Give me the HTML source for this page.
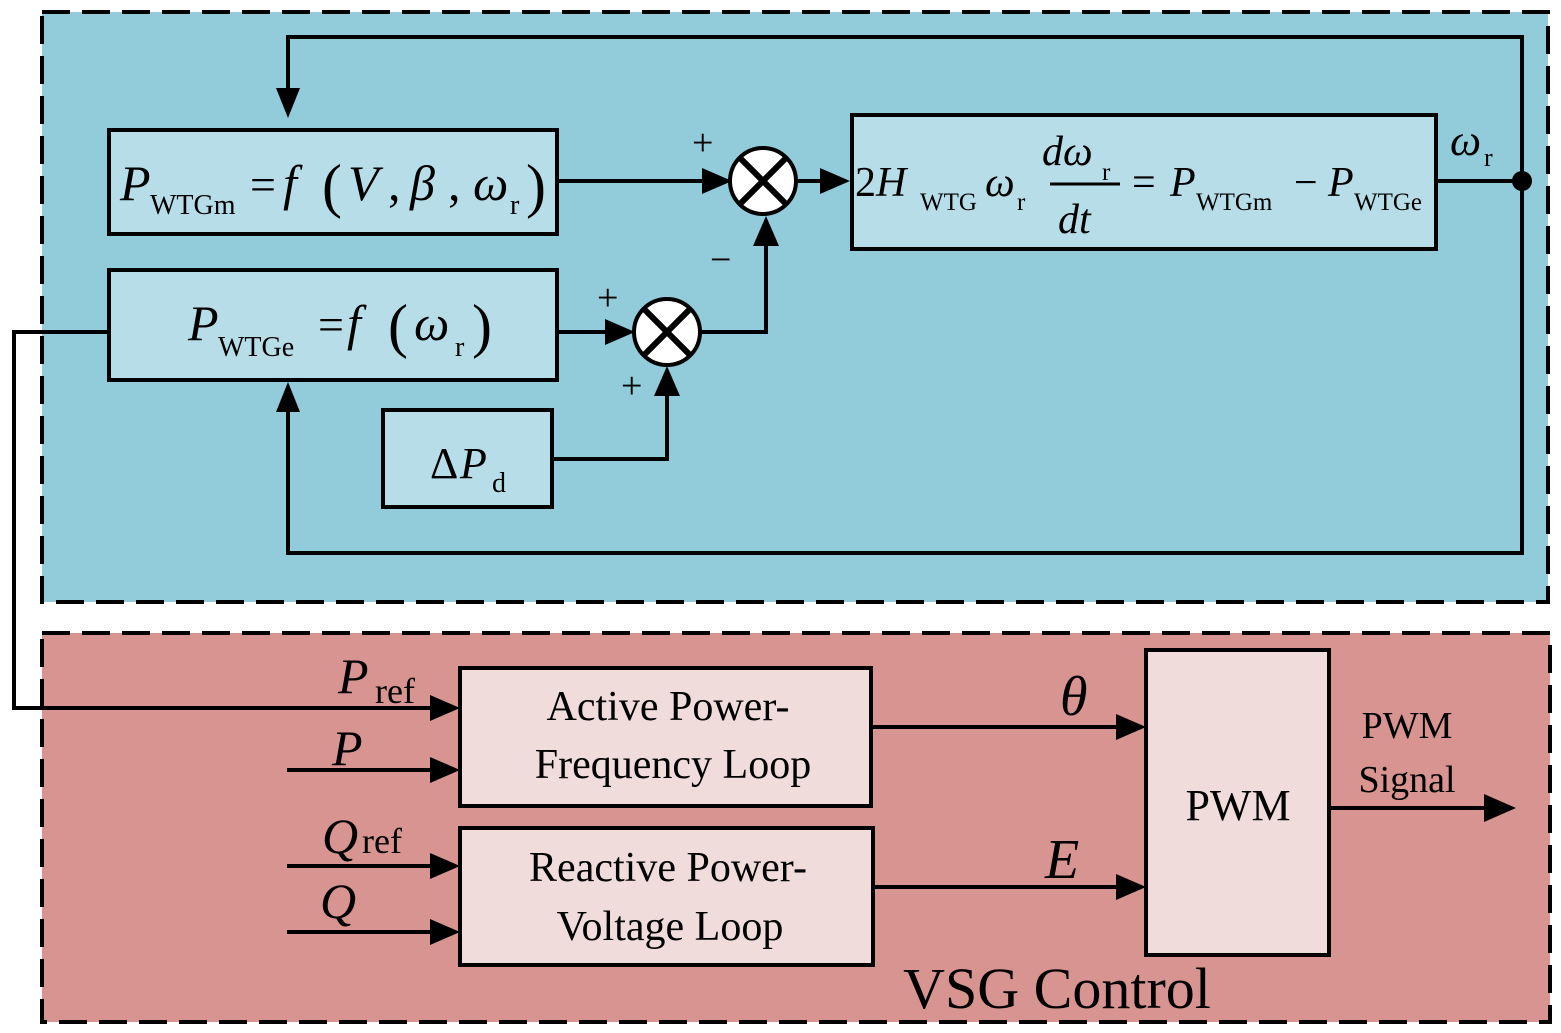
<!DOCTYPE html>
<html><head><meta charset="utf-8"><style>
html,body{margin:0;padding:0;background:#fff;}
svg{display:block;}
text{font-family:"Liberation Serif",serif;fill:#000;}
.i{font-style:italic;}
</style></head><body>
<svg width="1561" height="1033" viewBox="0 0 1561 1033" xmlns="http://www.w3.org/2000/svg">
<rect x="42" y="12" width="1506" height="590" fill="#92CBDA" stroke="#000" stroke-width="4" stroke-dasharray="28,12"/>
<rect x="42" y="633" width="1508" height="389" fill="#D89491" stroke="#000" stroke-width="4" stroke-dasharray="28,12"/>

<g stroke="#000" stroke-width="4" fill="none">
<polyline points="1522,181 1522,37 288,37 288,90"/>
<polyline points="1522,181 1522,553 288,553 288,410"/>
<line x1="1436" y1="181" x2="1522" y2="181"/>
<line x1="557" y1="181" x2="705" y2="181"/>
<line x1="796" y1="181" x2="825" y2="181"/>
<line x1="557" y1="332" x2="610" y2="332"/>
<polyline points="700,332 766,332 766,245"/>
<polyline points="552,459 667,459 667,395"/>
<polyline points="109,332 14,332 14,708 432,708"/>
<line x1="287" y1="770" x2="432" y2="770"/>
<line x1="287" y1="866" x2="432" y2="866"/>
<line x1="287" y1="932" x2="432" y2="932"/>
<line x1="871" y1="727" x2="1118" y2="727"/>
<line x1="873" y1="887" x2="1118" y2="887"/>
<line x1="1329" y1="808" x2="1488" y2="808"/>
</g>
<g fill="#000">
<polygon points="276,88 300,88 288,118"/>
<polygon points="276,412 300,412 288,382"/>
<polygon points="702,168 702,194 732,181"/>
<polygon points="820,168 820,194 850,181"/>
<polygon points="605,319 605,345 635,332"/>
<polygon points="753,246 779,246 766,216"/>
<polygon points="654,396 680,396 667,366"/>
<polygon points="430,695 430,721 460,708"/>
<polygon points="430,757 430,783 460,770"/>
<polygon points="430,853 430,879 460,866"/>
<polygon points="430,919 430,945 460,932"/>
<polygon points="1116,714 1116,740 1146,727"/>
<polygon points="1116,874 1116,900 1146,887"/>
<polygon points="1484,794 1484,822 1516,808"/>
<circle cx="1522" cy="181" r="10"/>
</g>
<g stroke="#000" stroke-width="4" fill="#B7DEE8">
<rect x="109" y="130" width="448" height="104"/>
<rect x="109" y="270" width="448" height="110"/>
<rect x="383" y="410" width="169" height="97"/>
<rect x="852" y="115" width="584" height="134"/>
</g>
<g stroke="#000" stroke-width="4" fill="#fff">
<circle cx="763" cy="181" r="33"/>
<circle cx="667" cy="332" r="33"/>
</g>
<g stroke="#000" stroke-width="6">
<line x1="740" y1="158" x2="786" y2="204"/><line x1="786" y1="158" x2="740" y2="204"/>
<line x1="644" y1="309" x2="690" y2="355"/><line x1="690" y1="309" x2="644" y2="355"/>
</g>
<g stroke="#000" stroke-width="4" fill="#F0DCDB">
<rect x="460" y="668" width="411" height="138"/>
<rect x="460" y="828" width="413" height="137"/>
<rect x="1146" y="650" width="183" height="305"/>
</g>

<text x="120" y="200" font-size="50" class="i">P</text>
<text x="150" y="214" font-size="28">WTGm</text>
<text x="250" y="200" font-size="46">=</text>
<text x="283" y="200" font-size="50" class="i">f</text>
<text x="322" y="206" font-size="60">(</text>
<text x="348" y="200" font-size="50" class="i">V</text>
<text x="388" y="200" font-size="50">,</text>
<text x="410" y="200" font-size="50" class="i">β</text>
<text x="448" y="200" font-size="50">,</text>
<text x="473" y="200" font-size="50" class="i">ω</text>
<text x="510" y="214" font-size="28">r</text>
<text x="526" y="206" font-size="60">)</text>

<text x="188" y="340" font-size="50" class="i">P</text>
<text x="218" y="356" font-size="28">WTGe</text>
<text x="318" y="340" font-size="46">=</text>
<text x="347" y="340" font-size="50" class="i">f</text>
<text x="388" y="346" font-size="60">(</text>
<text x="414" y="340" font-size="50" class="i">ω</text>
<text x="455" y="356" font-size="28">r</text>
<text x="472" y="346" font-size="60">)</text>

<text x="430" y="478" font-size="44">Δ</text>
<text x="460" y="478" font-size="44" class="i">P</text>
<text x="492" y="492" font-size="28">d</text>

<text x="855" y="196" font-size="42">2</text>
<text x="876" y="196" font-size="42" class="i">H</text>
<text x="920" y="210" font-size="25">WTG</text>
<text x="985" y="196" font-size="42" class="i">ω</text>
<text x="1017" y="210" font-size="25">r</text>
<text x="1042" y="165" font-size="42" class="i">dω</text>
<text x="1102" y="180" font-size="25">r</text>
<line x1="1050" y1="184" x2="1120" y2="184" stroke="#000" stroke-width="3"/>
<text x="1058" y="233" font-size="42" class="i">dt</text>
<text x="1132" y="196" font-size="42">=</text>
<text x="1170" y="196" font-size="42" class="i">P</text>
<text x="1196" y="210" font-size="25">WTGm</text>
<text x="1294" y="196" font-size="42">−</text>
<text x="1328" y="196" font-size="42" class="i">P</text>
<text x="1354" y="210" font-size="25">WTGe</text>

<text x="1450" y="155" font-size="44" class="i">ω</text>
<text x="1484" y="166" font-size="26">r</text>

<text x="692" y="155" font-size="38">+</text>
<text x="710" y="272" font-size="38">−</text>
<text x="597" y="310" font-size="38">+</text>
<text x="621" y="398" font-size="38">+</text>

<text x="338" y="693" font-size="50" class="i">P</text>
<text x="375" y="703" font-size="36">ref</text>
<text x="332" y="765" font-size="50" class="i">P</text>
<text x="322" y="853" font-size="50" class="i">Q</text>
<text x="362" y="853" font-size="36">ref</text>
<text x="320" y="918" font-size="50" class="i">Q</text>
<text x="668" y="720" font-size="42" text-anchor="middle">Active Power-</text>
<text x="673" y="778" font-size="42" text-anchor="middle">Frequency Loop</text>
<text x="668" y="881" font-size="42" text-anchor="middle">Reactive Power-</text>
<text x="670" y="940" font-size="42" text-anchor="middle">Voltage Loop</text>
<text x="1060" y="715" font-size="56" class="i">θ</text>
<text x="1045" y="878" font-size="56" class="i">E</text>
<text x="1238" y="820" font-size="44" text-anchor="middle">PWM</text>
<text x="1407" y="738" font-size="38" text-anchor="middle">PWM</text>
<text x="1407" y="792" font-size="38" text-anchor="middle">Signal</text>
<text x="1057" y="1008" font-size="58" text-anchor="middle">VSG Control</text>
</svg>
</body></html>
